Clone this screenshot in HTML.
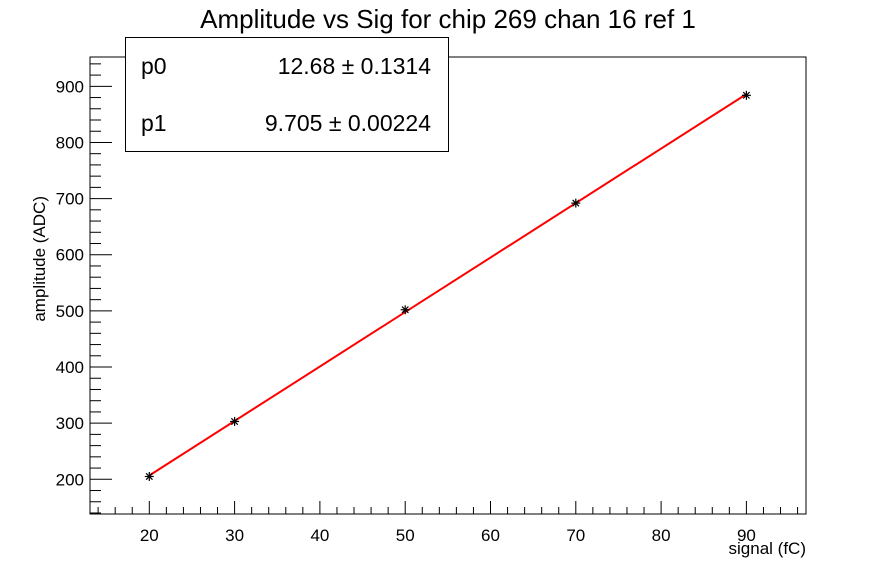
<!DOCTYPE html>
<html><head><meta charset="utf-8"><style>body{margin:0;background:#fff}svg{display:block}text{font-family:"Liberation Sans",sans-serif}</style></head>
<body>
<svg id="s" width="896" height="572" xmlns="http://www.w3.org/2000/svg">
<rect x="90" y="57" width="716" height="457" fill="none" stroke="#000" stroke-width="1"/>
<text x="448" y="28" font-size="26" text-anchor="middle">Amplitude vs Sig for chip 269 chan 16 ref 1</text>
<text x="806" y="554" font-size="17" text-anchor="end">signal (fC)</text>
<text transform="translate(45,196) rotate(-90)" font-size="17" text-anchor="end">amplitude (ADC)</text>
<g id="ax" stroke="#000" stroke-width="1"></g>
<g id="lb" font-size="17"></g>
<line x1="149.3" y1="475.5" x2="746.4" y2="94.1" stroke="#f00" stroke-width="2"/>
<g id="pts" stroke="#000" stroke-width="1.2"></g>
<rect x="125.5" y="37.5" width="323" height="114" fill="#fff" stroke="#000"/>
<text x="141" y="74" font-size="23">p0</text>
<text x="431" y="74" font-size="23" text-anchor="end">12.68 ± 0.1314</text>
<text x="141" y="131" font-size="23">p1</text>
<text x="431" y="131" font-size="23" text-anchor="end">9.705 ± 0.00224</text>
</svg>
<script>
var ax=document.getElementById('ax'),lb=document.getElementById('lb'),pts=document.getElementById('pts'),h='',t='';
function X(x){return 149.3+(x-20)*8.53}function Y(y){return 479.3-(y-200)*0.5614}
for(var x=14;x<=96;x+=2){var px=X(x),L=(x%10==0)?13:7;h+='<line x1="'+px+'" y1="514" x2="'+px+'" y2="'+(514-L)+'"/>';if(x%10==0&&x>=20&&x<=90)t+='<text x="'+px+'" y="541" text-anchor="middle">'+x+'</text>';}
for(var y=140;y<=950;y+=20){var py=Y(y),L=(y%100==0)?22:11;h+='<line x1="90" y1="'+py+'" x2="'+(90+L)+'" y2="'+py+'"/>';if(y%100==0)t+='<text x="84" y="'+(py+6)+'" text-anchor="end">'+y+'</text>';}
ax.innerHTML=h;lb.innerHTML=t;
var P=[[20,205],[30,303],[50,502],[70,692],[90,884]],q='';
P.forEach(function(p){var x=X(p[0]),y=Y(p[1]),r=4.5;q+='<line x1="'+(x-r)+'" y1="'+y+'" x2="'+(x+r)+'" y2="'+y+'"/><line x1="'+x+'" y1="'+(y-r)+'" x2="'+x+'" y2="'+(y+r)+'"/><line x1="'+(x-3.2)+'" y1="'+(y-3.2)+'" x2="'+(x+3.2)+'" y2="'+(y+3.2)+'"/><line x1="'+(x-3.2)+'" y1="'+(y+3.2)+'" x2="'+(x+3.2)+'" y2="'+(y-3.2)+'"/>';});
pts.innerHTML=q;
</script>
</body></html>
